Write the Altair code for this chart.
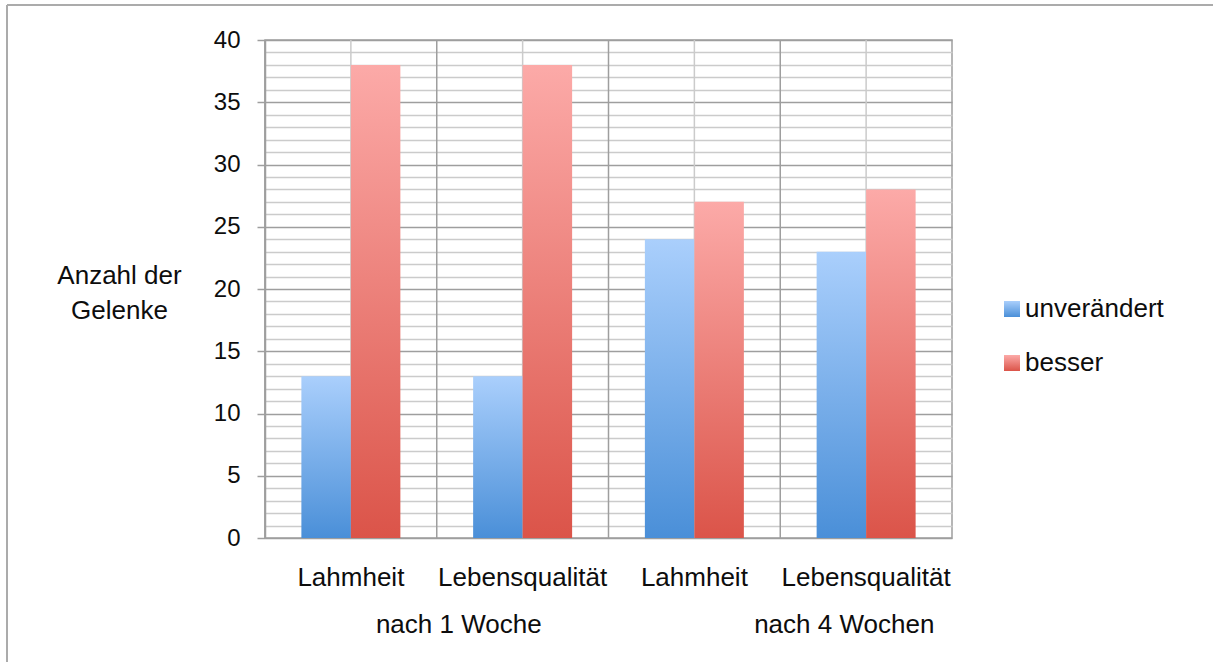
import altair as alt
import pandas as pd

# Source values
categories = ["Lahmheit", "Lebensqualität", "Lahmheit", "Lebensqualität"]
periods = ["nach 1 Woche", "nach 1 Woche", "nach 4 Wochen", "nach 4 Wochen"]
series_names = ["unverändert", "besser"]
unveraendert = [13, 13, 24, 23]
besser = [38, 38, 27, 28]
y_ticks = list(range(0, 41))
axis_title = ["Anzahl der", "Gelenke"]

# Unique key per bar group (period|category); the axis shows only the category part
keys = [f"{p}|{c}" for p, c in zip(periods, categories)]

bars_df = pd.DataFrame(
    [{"key": k, "series": s, "value": v}
     for k, u, b in zip(keys, unveraendert, besser)
     for s, v in zip(series_names, [u, b])]
)
keys_df = pd.DataFrame({"key": keys})

FONT = "Liberation Sans"
MAJOR = "#9e9e9e"
MINOR = "#cbcbcb"
INK = "#0d0d0d"


def gradient(light, dark):
    return {
        "expr": "{gradient:'linear',x1:0,y1:0,x2:0,y2:1,"
        "stops:[{offset:0,color:'%s'},{offset:1,color:'%s'}]}" % (light, dark)
    }


color_scale = alt.Scale(
    domain=series_names,
    range=[gradient("#aacffc", "#4a8fd8"), gradient("#fcaaa8", "#db5449")],
)

x_scale = alt.Scale(paddingInner=0, paddingOuter=0)
x_axis = alt.Axis(
    bandPosition=0.5,
    labelExpr="split(datum.label, '|')[1]",
    labelAngle=0,
    labelFontSize=26,
    labelBaseline="alphabetic",
    labelPadding=47,
    ticks=False,
    tickSize=0,
    domain=False,
    grid=False,
    labelColor=INK,
)


def x_enc(band_pos=None):
    kw = dict(sort=keys, scale=x_scale, title=None, axis=x_axis)
    if band_pos is not None:
        kw["bandPosition"] = band_pos
    return alt.X("key:N", **kw)


# Vertical lines: category boundaries (dark) and category centres (light)
edges = alt.Chart(keys_df).mark_rule(color=MAJOR, strokeWidth=1.5).encode(x=x_enc(0))
centres = alt.Chart(keys_df).mark_rule(color=MINOR, strokeWidth=1.5).encode(x=x_enc(0.5))

bars = alt.Chart(bars_df).mark_bar().encode(
    x=x_enc(),
    xOffset=alt.XOffset(
        "series:N", sort=series_names,
        scale=alt.Scale(paddingInner=0, paddingOuter=0.735),
    ),
    y=alt.Y(
        "value:Q",
        scale=alt.Scale(domain=[0, 40], nice=False),
        title=axis_title,
        axis=alt.Axis(
            values=y_ticks,
            labelExpr="datum.value % 5 === 0 ? datum.label : ''",
            labelFontSize=24,
            labelPadding=17,
            labelColor=INK,
            tickSize=8,
            tickWidth=1.5,
            tickColor={"condition": {"test": "datum.value % 5 === 0", "value": MAJOR},
                       "value": "transparent"},
            grid=True,
            gridWidth=1.5,
            gridColor={"condition": {"test": "datum.value % 5 === 0", "value": MAJOR},
                       "value": MINOR},
            domainColor=MAJOR,
            domainWidth=1.5,
            titleAngle=0,
            titleAlign="center",
            titleBaseline="alphabetic",
            titleX=-146,
            titleY=243,
            titleFontSize=26,
            titleFontWeight="normal",
            titleLineHeight=35,
            titleColor=INK,
        ),
    ),
    color=alt.Color(
        "series:N",
        scale=color_scale,
        legend=alt.Legend(
            title=None,
            orient="none",
            legendX=734,
            legendY=256,
            symbolType="square",
            symbolSize=256,
            symbolStrokeWidth=0,
            labelFontSize=26,
            labelOffset=0,
            rowPadding=28,
            padding=0,
            labelColor=INK,
        ),
    ),
)


# Period labels below the category labels
def period_label(i, shift):
    df = pd.DataFrame({"key": [keys[i]], "label": [periods[i]]})
    return alt.Chart(df).mark_text(
        fontSize=26, baseline="alphabetic", align="center", dx=shift, color=INK
    ).encode(x=x_enc(1), y=alt.value(593), text="label:N")


p1 = period_label(0, 22)
p2 = period_label(2, 64)

# Frame lines along the top and left of the figure
frame_top = alt.Chart(keys_df.head(1)).mark_rule(color="#ababab", strokeWidth=2).encode(
    x=alt.value(-258), x2=alt.value(948), y=alt.value(-35)
)
frame_left = alt.Chart(keys_df.head(1)).mark_rule(color="#ababab", strokeWidth=2).encode(
    x=alt.value(-258), y=alt.value(-35), y2=alt.value(622)
)

chart = (
    alt.layer(edges, centres, bars, p1, p2, frame_top, frame_left)
    .properties(
        width=687,
        height=498,
        autosize=alt.AutoSizeParams(type="none"),
        padding={"left": 265, "top": 40, "right": 261, "bottom": 124},
        background="white",
    )
    .configure(font=FONT)
    .configure_view(stroke=MAJOR, strokeWidth=1.5)
)

chart.save("out.html", embed_options={"renderer": "svg", "actions": False})
